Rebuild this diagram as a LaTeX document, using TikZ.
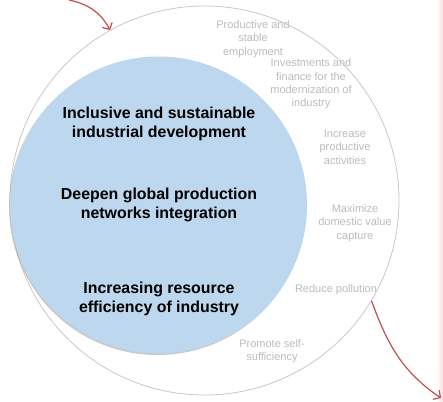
\documentclass[tikz,border=0pt]{standalone}
\usepackage{fontspec}
\setmainfont{Liberation Sans}
\usepackage{xcolor}
\usetikzlibrary{arrows,arrows.meta,positioning,shadows,backgrounds}
\definecolor{ringgray}{RGB}{200, 200, 200}
\definecolor{coreblue}{RGB}{189, 215, 238}
\definecolor{textgray}{RGB}{188, 188, 188}
\definecolor{arrowred}{RGB}{192, 80, 77}
\tikzstyle{ring} = [circle, draw=ringgray, line width=0.8pt, fill=white, minimum size=389pt, inner sep=0pt]
\tikzstyle{core} = [circle, draw=none, fill=coreblue, minimum size=297pt, inner sep=0pt, drop shadow={shadow xshift=-1pt, shadow yshift=-1.5pt, fill=black!35, opacity=0.6}]
\tikzstyle{goal} = [align=center, text=black, font=\fontsize{15.9}{18.8}\selectfont\bfseries]
\tikzstyle{impact} = [align=center, text=textgray, font=\fontsize{11}{13.3}\selectfont]
\tikzstyle{redge} = [draw=arrowred, line width=1.2pt, -{Straight Barb[length=5pt,width=11pt]}]

\begin{document}
\begin{tikzpicture}[x=1pt, y=1pt]
\useasboundingbox (0,0) rectangle (443,-401);

% page edge =============================
\fill[left color=white, right color=red!14] (437,0) rectangle (443,-401);

% circles =============================
\node[ring] (ring) at (204.5,-200.5) {};
\node[core] (core) at (158.5,-205) {};

% goals
\node[goal] (inclusive) at (159,-124) {Inclusive and sustainable\\industrial development};
\node[goal] (deepen) at (159,-205) {Deepen global production\\networks integration};
\node[goal] (efficiency) at (159,-299) {Increasing resource\\efficiency of industry};

% impacts =============================
\node[impact] (employment) at (253,-39) {Productive and\\stable\\employment};
\node[impact] (finance) at (311,-84) {Investments and\\finance for the\\modernization of\\industry};
\node[impact] (activities) at (345,-147) {Increase\\productive\\activities};
\node[impact] (capture) at (355,-223) {Maximize\\domestic value\\capture};
\node[impact] (pollution) at (336,-290) {Reduce pollution};
\node[impact] (selfsuff) at (272,-351) {Promote self-\\sufficiency};

% edges
\coordinate (in-top) at (69,0);
\coordinate (out-bottom) at (441,-398);
\path[redge] (in-top) to[out=-12, in=118] (ring.119);
\path[redge] (ring.-31) to[out=-70, in=146] (out-bottom);

\end{tikzpicture}
\end{document}
